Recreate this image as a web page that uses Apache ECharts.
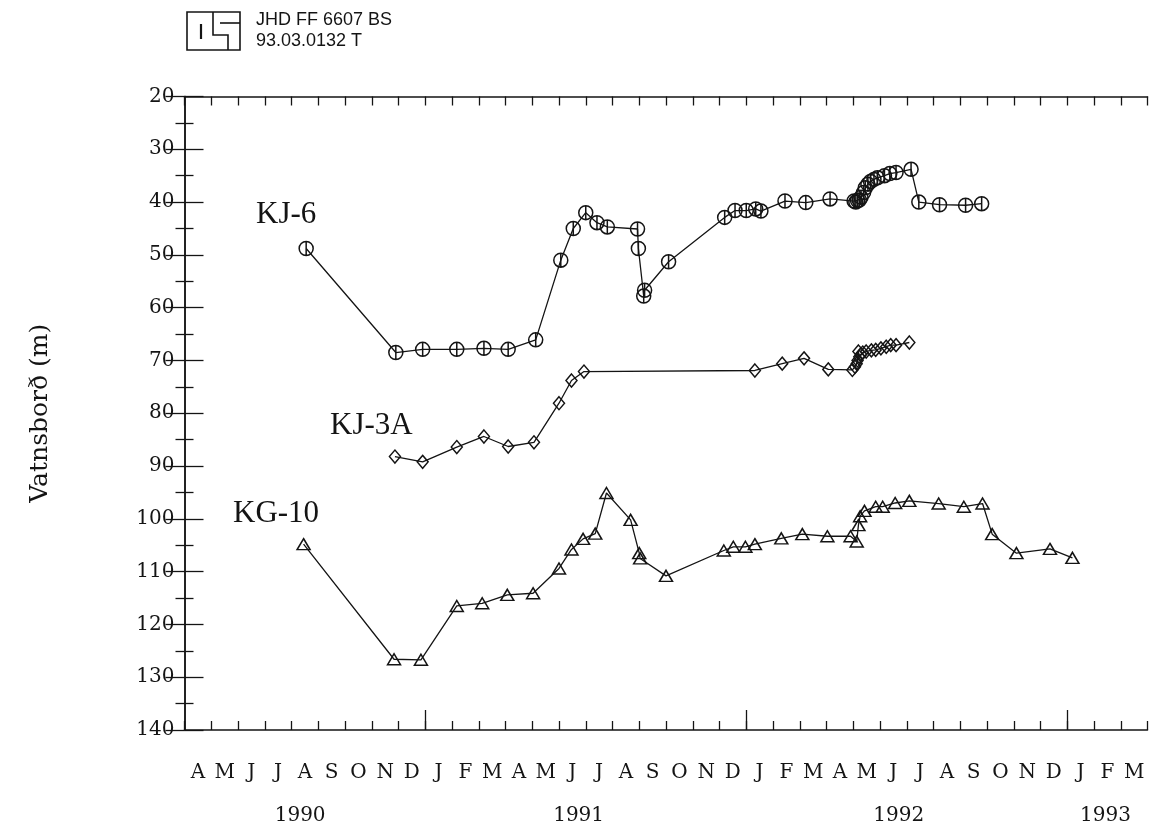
<!DOCTYPE html>
<html>
<head>
<meta charset="utf-8">
<script src="https://cdn.jsdelivr.net/npm/echarts@6/dist/echarts.min.js"></script>
<style>
  html, body { margin: 0; padding: 0; background: #fff; }
  #chart { width: 1149px; height: 828px; }
</style>
</head>
<body>
<div id="chart"></div>
<script>
// Water level (m below reference) in three wells, 1990-1993
const kj6Dates = ['1990-08-18','1990-11-28','1990-12-29','1991-02-06','1991-03-07','1991-04-04','1991-05-05','1991-06-03','1991-06-17','1991-07-01','1991-07-14','1991-07-26','1991-08-30','1991-08-31','1991-09-06','1991-09-07','1991-10-04','1991-12-07','1991-12-19','1992-01-01','1992-01-12','1992-01-18','1992-02-14','1992-03-08','1992-04-05','1992-05-02','1992-05-04','1992-05-06','1992-05-08','1992-05-10','1992-05-13','1992-05-15','1992-05-18','1992-05-21','1992-05-25','1992-05-29','1992-06-06','1992-06-12','1992-06-19','1992-07-06','1992-07-15','1992-08-08','1992-09-07','1992-09-25'];
const kj6Levels = [48.8,68.5,67.9,67.9,67.7,67.9,66.1,51.0,45.0,42.0,43.9,44.7,45.1,48.8,57.8,56.7,51.3,42.9,41.6,41.6,41.3,41.7,39.8,40.1,39.4,39.8,40.0,39.7,39.6,39.1,38.2,37.3,36.6,36.1,35.7,35.4,35.0,34.6,34.4,33.8,40.0,40.5,40.6,40.3];

const kj3aDates = ['1990-11-27','1990-12-29','1991-02-06','1991-03-07','1991-04-04','1991-05-03','1991-06-01','1991-06-15','1991-06-29','1992-01-11','1992-02-11','1992-03-06','1992-04-03','1992-04-30','1992-05-03','1992-05-05','1992-05-06','1992-05-07','1992-05-08','1992-05-10','1992-05-12','1992-05-16','1992-05-22','1992-05-27','1992-06-02','1992-06-08','1992-06-13','1992-06-19','1992-07-04'];
const kj3aLevels = [88.2,89.2,86.4,84.4,86.3,85.5,78.1,73.8,72.1,71.9,70.6,69.6,71.7,71.8,71.2,70.6,70.0,68.3,69.3,68.8,68.5,68.3,68.1,68.0,67.7,67.4,67.1,67.1,66.6];

const kg10Dates = ['1990-08-15','1990-11-26','1990-12-27','1991-02-06','1991-03-05','1991-04-03','1991-05-02','1991-06-01','1991-06-15','1991-06-28','1991-07-12','1991-07-25','1991-08-22','1991-09-01','1991-09-02','1991-10-01','1991-12-06','1991-12-17','1991-12-31','1992-01-11','1992-02-10','1992-03-04','1992-04-02','1992-04-28','1992-05-05','1992-05-07','1992-05-09','1992-05-14','1992-05-27','1992-06-04','1992-06-18','1992-07-04','1992-08-07','1992-09-05','1992-09-26','1992-10-07','1992-11-04','1992-12-12','1993-01-07'];
const kg10Levels = [104.8,126.6,126.7,116.5,116.0,114.4,114.1,109.4,105.8,103.8,102.8,95.1,100.2,106.5,107.5,110.8,106.0,105.3,105.3,104.8,103.7,102.9,103.3,103.3,104.3,101.2,99.5,98.5,97.7,97.7,97.0,96.6,97.1,97.7,97.1,102.9,106.5,105.7,107.4];

// Axis settings
const monthLetters = ['J','F','M','A','M','J','J','A','S','O','N','D'];
const startYear = 1990, startMonth = 4;   // axis begins 1 April 1990
const monthCount = 36;                    // and runs to 1 April 1993
const yMin = 20, yMax = 140, yStep = 10;
const yearLabelDates = ['1990-08-11','1991-06-23','1992-06-22','1993-02-13'];
const yAxisTitle = 'Vatnsborð (m)';
const seriesNames = ['KJ-6','KJ-3A','KG-10'];
const headerLines = ['JHD FF 6607 BS', '93.03.0132 T'];

const INK = '#141414';
const tickFont = '"DejaVu Serif", serif';

// a calendar date as months elapsed since the start of the axis
function monthPos(s) {
  const [y, m, d] = s.split('-').map(Number);
  const days = new Date(Date.UTC(y, m, 0)).getUTCDate();
  return (y - startYear) * 12 + (m - startMonth) + (d - 1) / days;
}
function pairs(dates, vals) { return dates.map((d, i) => [monthPos(d), vals[i]]); }
function monthOf(k) { return ((startMonth - 1 + Math.floor(k)) % 12 + 12) % 12; }
function yearOf(k) { return startYear + Math.floor((startMonth - 1 + Math.floor(k)) / 12); }

const monthStarts = Array.from({ length: monthCount + 1 }, (_, k) => k);
const monthMids = Array.from({ length: monthCount }, (_, k) => k + 0.5);
const janStarts = monthStarts.filter(k => monthOf(k) === 0 && k < monthCount);
const yearLabelPos = yearLabelDates.map(monthPos);

// open plotter-style markers (the line shows through them)
const circleSym = 'path://M0,-10A10,10,0,1,1,0,10A10,10,0,1,1,0,-10ZM0,-10L0,10';
const diamondSym = 'path://M0,-10L8,0L0,10L-8,0Z';
const triSym = 'path://M0,-9L10,8L-10,8Z';

function xAx(extra) {
  return Object.assign({
    type: 'value', min: 0, max: monthCount, interval: 1, gridIndex: 0,
    splitLine: { show: false },
    axisLine: { show: true, onZero: false, lineStyle: { color: INK, width: 1.5 } },
    axisPointer: { show: false }
  }, extra);
}

const chart = echarts.init(document.getElementById('chart'), null, { renderer: 'canvas' });

const option = {
  animation: false,
  backgroundColor: '#ffffff',
  grid: { left: 184.5, right: 1.5, top: 96.5, bottom: 98, containLabel: false },
  xAxis: [
    xAx({
      position: 'bottom',
      axisTick: { show: true, inside: true, length: 9, customValues: monthStarts, lineStyle: { color: INK, width: 1.3 } },
      axisLabel: {
        show: true, customValues: monthMids, margin: 33, color: INK,
        fontFamily: tickFont, fontSize: 20,
        formatter: v => monthLetters[monthOf(v)]
      }
    }),
    xAx({
      position: 'bottom', offset: 0,
      axisLine: { show: false },
      axisTick: { show: true, inside: true, length: 20, customValues: janStarts, lineStyle: { color: INK, width: 1.3 } },
      axisLabel: {
        show: true, customValues: yearLabelPos, margin: 76, color: INK,
        fontFamily: tickFont, fontSize: 20,
        formatter: v => String(yearOf(v))
      }
    }),
    xAx({
      position: 'top',
      axisTick: { show: true, inside: true, length: 9, customValues: monthStarts, lineStyle: { color: INK, width: 1.3 } },
      axisLabel: { show: false }
    })
  ],
  yAxis: [
    {
      type: 'value', position: 'left', inverse: true,
      min: yMin, max: yMax, interval: yStep,
      name: yAxisTitle, nameLocation: 'middle', nameGap: 132, nameRotate: 90,
      nameTextStyle: { color: INK, fontFamily: tickFont, fontSize: 25 },
      splitLine: { show: false },
      axisLine: { show: true, lineStyle: { color: INK, width: 1.5 } },
      axisTick: { show: true, inside: true, length: 19, lineStyle: { color: INK, width: 1.3 } },
      minorTick: { show: true, splitNumber: 2, length: 9, lineStyle: { color: INK, width: 1.3 } },
      axisLabel: { color: INK, fontFamily: tickFont, fontSize: 20, margin: 10 }
    },
    {
      type: 'value', position: 'right', inverse: true,
      min: yMin, max: yMax, interval: yStep,
      splitLine: { show: false },
      axisLine: { show: true, lineStyle: { color: INK, width: 1.5 } },
      axisTick: { show: true, inside: true, length: 19, lineStyle: { color: INK, width: 1.3 } },
      minorTick: { show: true, splitNumber: 2, length: 9, lineStyle: { color: INK, width: 1.3 } },
      axisLabel: { show: false }
    }
  ],
  series: [
    { name: seriesNames[0], data: pairs(kj6Dates, kj6Levels), symbol: circleSym, symbolSize: [14, 14] },
    { name: seriesNames[1], data: pairs(kj3aDates, kj3aLevels), symbol: diamondSym, symbolSize: [11, 13] },
    { name: seriesNames[2], data: pairs(kg10Dates, kg10Levels), symbol: triSym, symbolSize: [13, 11] }
  ].map(s => Object.assign({
    type: 'line', xAxisIndex: 0, yAxisIndex: 0,
    showSymbol: true, showAllSymbol: true, silent: true,
    lineStyle: { color: INK, width: 1.3 },
    itemStyle: { color: 'rgba(0,0,0,0)', borderColor: INK, borderWidth: 1.5 },
    emphasis: { disabled: true }
  }, s)),
  graphic: [
    // institute mark
    { type: 'rect', shape: { x: 187, y: 12, width: 53, height: 38 }, style: { fill: 'none', stroke: INK, lineWidth: 1.6 } },
    { type: 'line', shape: { x1: 201, y1: 24, x2: 201, y2: 39 }, style: { stroke: INK, lineWidth: 2.2 } },
    { type: 'polyline', shape: { points: [[213, 12], [213, 35], [228, 35], [228, 50]] }, style: { stroke: INK, lineWidth: 1.6, fill: 'none' } },
    { type: 'polyline', shape: { points: [[220, 23], [240, 23]] }, style: { stroke: INK, lineWidth: 1.6, fill: 'none' } },
    { type: 'text', style: { x: 256, y: 20, text: headerLines[0], font: '18px "Liberation Sans", Arial, sans-serif', fill: INK, verticalAlign: 'middle' } },
    { type: 'text', style: { x: 256, y: 41.5, text: headerLines[1], font: '18px "Liberation Sans", Arial, sans-serif', fill: INK, verticalAlign: 'middle' } },
    // well names
    { type: 'text', style: { x: 256, y: 215, text: seriesNames[0], font: '31px "Liberation Serif", "Times New Roman", serif', fill: INK, verticalAlign: 'middle' } },
    { type: 'text', style: { x: 330, y: 426, text: seriesNames[1], font: '31px "Liberation Serif", "Times New Roman", serif', fill: INK, verticalAlign: 'middle' } },
    { type: 'text', style: { x: 233, y: 514, text: seriesNames[2], font: '31px "Liberation Serif", "Times New Roman", serif', fill: INK, verticalAlign: 'middle' } }
  ]
};

chart.setOption(option);
</script>
</body>
</html>
